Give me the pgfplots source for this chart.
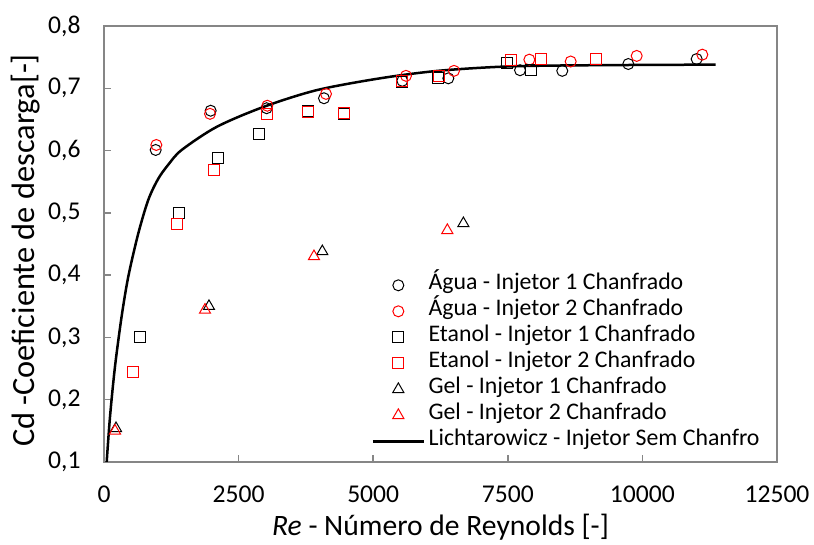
\documentclass[border=0pt]{standalone}
\usepackage{fontspec}
\setmainfont{Carlito}
\usepackage{pgfplots}
\pgfplotsset{compat=1.18}
\definecolor{axgray}{RGB}{134,134,134}
\begin{document}
\begin{tikzpicture}
\begin{axis}[
    at={(0,0)}, anchor=south west,
    width=336.5pt, height=218pt, scale only axis,
    xmin=0, xmax=12500, ymin=0.1, ymax=0.8,
    xtick={0,2500,5000,7500,10000,12500},
    ytick={0.1,0.2,0.3,0.4,0.5,0.6,0.7,0.8},
    scaled x ticks=false,
    tick pos=left, tick align=inside,
    major tick length=3.7pt,
    axis line style={draw=axgray, line width=0.75pt},
    every tick/.style={draw=axgray, line width=0.75pt},
    /pgf/number format/assume math mode=true,
    xticklabel style={/pgf/number format/1000 sep={}, font=\fontsize{12.8}{14}\selectfont, yshift=-8.5pt},
    yticklabel style={/pgf/number format/use comma, /pgf/number format/fixed,
        /pgf/number format/fixed zerofill, /pgf/number format/precision=1,
        font=\fontsize{12.8}{14}\selectfont, xshift=-8.2pt},
    xlabel={\textit{Re} - Número de Reynolds [-]},
    ylabel={Cd -Coeficiente de descarga[-]},
    xlabel style={at={(axis description cs:0.5,-0.149)}, anchor=center, font=\fontsize{14.8}{16}\selectfont},
    ylabel style={at={(axis description cs:-0.117,0.485)}, anchor=center, font=\fontsize{16.2}{18}\selectfont},
    legend image code/.code={\draw[mark repeat=2,mark phase=2,#1] plot coordinates {(0pt,0pt)(12.75pt,0pt)(25.5pt,0pt)};},
    legend cell align=left,
    legend style={at={(0.397,0.436)}, anchor=north west, draw=none, fill=none, inner sep=0pt,
        row sep=0pt,
        nodes={inner ysep=0pt, inner xsep=1.75pt, text height=8.5pt, text depth=4.5pt,
        font=\fontsize{11.9}{13}\selectfont}},
]
\addplot[only marks, mark=o, mark size=2.75pt, black, mark options={line width=0.5pt}]
    coordinates {(960,0.601)(1981,0.664)(3021,0.668)(4086,0.684)(5541,0.712)(6395,0.716)(7727,0.729)(8512,0.728)(9738,0.739)(11008,0.747)};
\addlegendentry{Água - Injetor 1 Chanfrado}
\addplot[only marks, mark=o, mark size=2.75pt, red, mark options={line width=0.5pt}]
    coordinates {(972,0.609)(1969,0.659)(3033,0.672)(4123,0.691)(5609,0.720)(6501,0.728)(7900,0.746)(8668,0.743)(9894,0.752)(11113,0.754)};
\addlegendentry{Água - Injetor 2 Chanfrado}
\addplot[only marks, mark=square, mark size=2.75pt, black, mark options={line width=0.5pt}]
    coordinates {(669,0.300)(1399,0.500)(2111,0.588)(2873,0.626)(3789,0.664)(4458,0.659)(5541,0.710)(6197,0.717)(7479,0.740)(7925,0.729)(9132,0.747)};
\addlegendentry{Etanol - Injetor 1 Chanfrado}
\addplot[only marks, mark=square, mark size=2.75pt, red, mark options={line width=0.5pt}]
    coordinates {(545,0.244)(1350,0.482)(2043,0.569)(3021,0.658)(3789,0.662)(4458,0.660)(5541,0.711)(6222,0.719)(7553,0.746)(8110,0.747)(9132,0.747)};
\addlegendentry{Etanol - Injetor 2 Chanfrado}
\addplot[only marks, mark=triangle, mark size=3.2pt, black, mark options={line width=0.5pt}]
    coordinates {(223,0.154)(1950,0.350)(4055,0.438)(6675,0.483)};
\addlegendentry{Gel - Injetor 1 Chanfrado}
\addplot[only marks, mark=triangle, mark size=3.2pt, red, mark options={line width=0.5pt}]
    coordinates {(204,0.150)(1876,0.344)(3900,0.430)(6377,0.472)};
\addlegendentry{Gel - Injetor 2 Chanfrado}
\addplot[black, line width=1.25pt, smooth, no marks]
    coordinates {(50,0.100)(112,0.173)(204,0.253)(328,0.334)(452,0.398)(637,0.467)(823,0.521)(1009,0.555)(1200,0.578)(1443,0.601)(2092,0.638)(2959,0.670)(3950,0.697)(5126,0.716)(6200,0.728)(7479,0.735)(9000,0.737)(11361,0.738)};
\addlegendentry{Lichtarowicz - Injetor Sem Chanfro}
\end{axis}
\pgfresetboundingbox
\path[use as bounding box] (-52pt,-41.5pt) rectangle (355pt,231pt);
\end{tikzpicture}
\end{document}
